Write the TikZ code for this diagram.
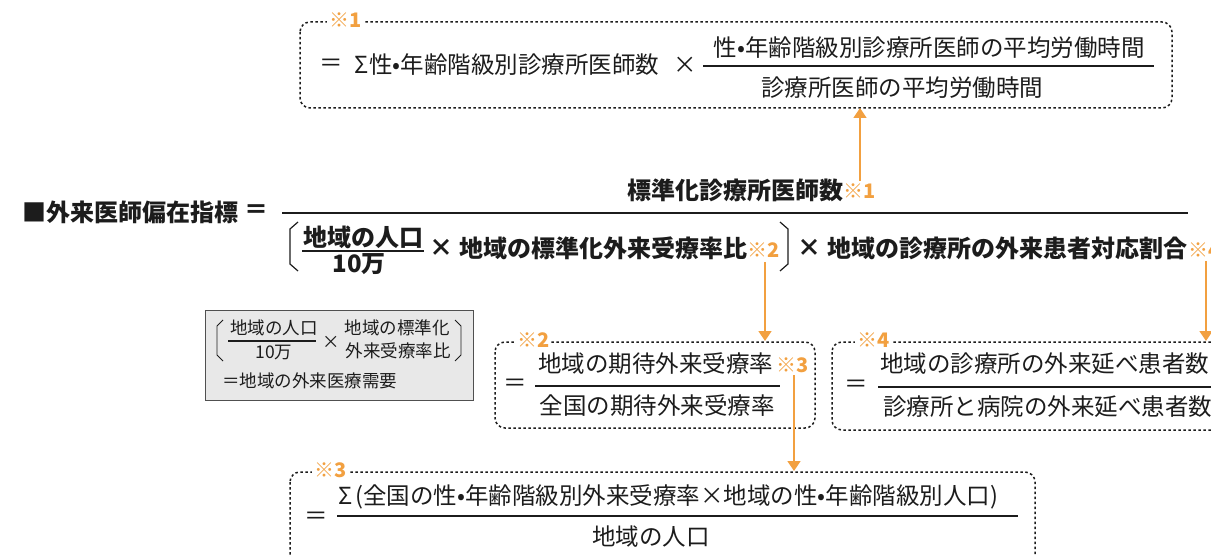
\documentclass[tikz,border=0pt]{standalone}
\usepackage{fontspec}
\setmainfont{Noto Sans CJK JP}
\usetikzlibrary{arrows.meta}
\definecolor{orn}{RGB}{242,160,64}
\definecolor{ink}{RGB}{28,28,28}
\definecolor{gfill}{RGB}{232,232,232}
\definecolor{gline}{RGB}{80,80,80}
\begin{document}
\begin{tikzpicture}[x=1pt,y=-1pt,
  txt/.style={inner sep=0pt, text=ink},
  big/.style={txt, font=\fontsize{24}{28}\selectfont\bfseries},
  mid/.style={txt, font=\fontsize{23.5}{28}\selectfont},
  small/.style={txt, font=\fontsize{17.5}{20}\selectfont},
  note/.style={inner xsep=2pt, inner ysep=0pt, fill=white, text=orn, font=\fontsize{20}{22}\selectfont\bfseries},
  notein/.style={inner sep=0pt, text=orn, font=\fontsize{20}{22}\selectfont\bfseries},
  dbox/.style={draw=ink, line width=1.5pt, dash pattern=on 2.5pt off 2.5pt, rounded corners=10pt},
  bar/.style={draw=ink, line width=1.8pt},
  brk/.style={draw=ink, line width=1.2pt},
  ptr/.style={draw=orn, line width=1.6pt, -{Triangle[width=13pt,length=10pt]}},
]
\useasboundingbox (0,0) rectangle (1211,556);
\clip (0,0) rectangle (1211,556);

% ---------- box 1 ----------
\draw[dbox] (300,22) rectangle (1172,108);
\node[note, anchor=west] (n1) at (327,20) {※1};
\coordinate (box1s) at (860,108);
\node[mid] (e1) at (331,65) {＝};
\node[mid, anchor=west] (s1) at (354,65) {Σ\hspace{1pt}性•年齢階級別診療所医師数};
\node[mid] (x1) at (685,65) {×};
\node[mid] (f1n) at (929,48) {性•年齢階級別診療所医師の平均労働時間};
\draw[bar] (703,66) -- (1154,66);
\node[mid] (f1d) at (902,88) {診療所医師の平均労働時間};

% ---------- main formula ----------
\node[big, anchor=west] (title) at (22,212) {■外来医師偏在指標};
\node[big] (eq) at (256,212) {＝};
\draw[bar] (282,213) -- (1188,213);
\node[big] (num) at (735,190) {標準化診療所医師数};
\node[notein, anchor=west] (m1) at (843,191) {※1};
% left bracket
\draw[brk] (298,222) -- (290,229) -- (290,264) -- (298,271);
\node[big] (pn) at (363,237) {地域の人口};
\draw[bar] (302,251) -- (424,251);
\node[big] (pd) at (359,264) {10万};
\node[big] (x2) at (441,248) {×};
\node[big, anchor=west] (ratio) at (459,248) {地域の標準化外来受療率比};
\node[notein, anchor=west] (m2) at (747,250) {※2};
% right bracket
\draw[brk] (780,222) -- (788,229) -- (788,264) -- (780,271);
\node[big] (x3) at (809,248) {×};
\node[big, anchor=west] (share) at (827,248) {地域の診療所の外来患者対応割合};
\node[notein, anchor=west] (m4) at (1188,250) {※4};

% ---------- grey box ----------
\draw[draw=gline, fill=gfill, line width=1pt] (205,311) rectangle (473,400);
\draw[brk, line width=0.9pt] (223,320) -- (217,326) -- (217,355) -- (223,361);
\node[small] (gn) at (274,328) {地域の人口};
\draw[draw=ink, line width=1.3pt] (228,341) -- (316,341);
\node[small] (gd) at (274,353) {10万};
\node[small] (gx) at (331,342) {×};
\node[small] (gr1) at (397,328) {地域の標準化};
\node[small] (gr2) at (398,351) {外来受療率比};
\draw[brk, line width=0.9pt] (455,320) -- (461,326) -- (461,355) -- (455,361);
\node[small, anchor=west] (gdem) at (222,381) {＝地域の外来医療需要};

% ---------- box 2 ----------
\draw[dbox] (495,342) rectangle (815,428);
\node[note, anchor=west] (n2) at (515,340) {※2};
\node[mid] (e2) at (515,385) {＝};
\node[mid, anchor=west] (b2n) at (538,364) {地域の期待外来受療率};
\node[notein, anchor=west] (m3) at (776,365) {※3};
\draw[bar] (535,386) -- (780,386);
\node[mid] (b2d) at (657,406) {全国の期待外来受療率};

% ---------- box 4 ----------
\draw[dbox] (832,342) rectangle (1260,430);
\node[note, anchor=west] (n4) at (855,340) {※4};
\node[mid] (e4) at (856,386) {＝};
\node[mid, anchor=west] (b4n) at (880,364) {地域の診療所の外来延べ患者数};
\draw[bar] (878,387) -- (1250,387);
\node[mid, anchor=west] (b4d) at (883,407) {診療所と病院の外来延べ患者数};

% ---------- box 3 ----------
\draw[dbox] (290,472) rectangle (1035,580);
\node[note, anchor=west] (n3) at (312,470) {※3};
\node[mid] (e3) at (316,518) {＝};
\node[mid, anchor=west] (b3n) at (338,497) {Σ\hspace{3pt}(全国の性•年齢階級別外来受療率×地域の性•年齢階級別人口)};
\draw[bar] (337,516) -- (1018,516);
\node[mid] (b3d) at (651,537) {地域の人口};

% ---------- arrows ----------
\coordinate (a1) at (860,181);
\draw[ptr] (a1) -- (box1s);
\coordinate (a2s) at (765,262);
\coordinate (a2e) at (765,341);
\draw[ptr] (a2s) -- (a2e);
\coordinate (a4s) at (1206,261);
\coordinate (a4e) at (1206,341);
\draw[ptr] (a4s) -- (a4e);
\coordinate (a3s) at (794,375);
\coordinate (a3e) at (794,471);
\draw[ptr] (a3s) -- (a3e);
\end{tikzpicture}
\end{document}
